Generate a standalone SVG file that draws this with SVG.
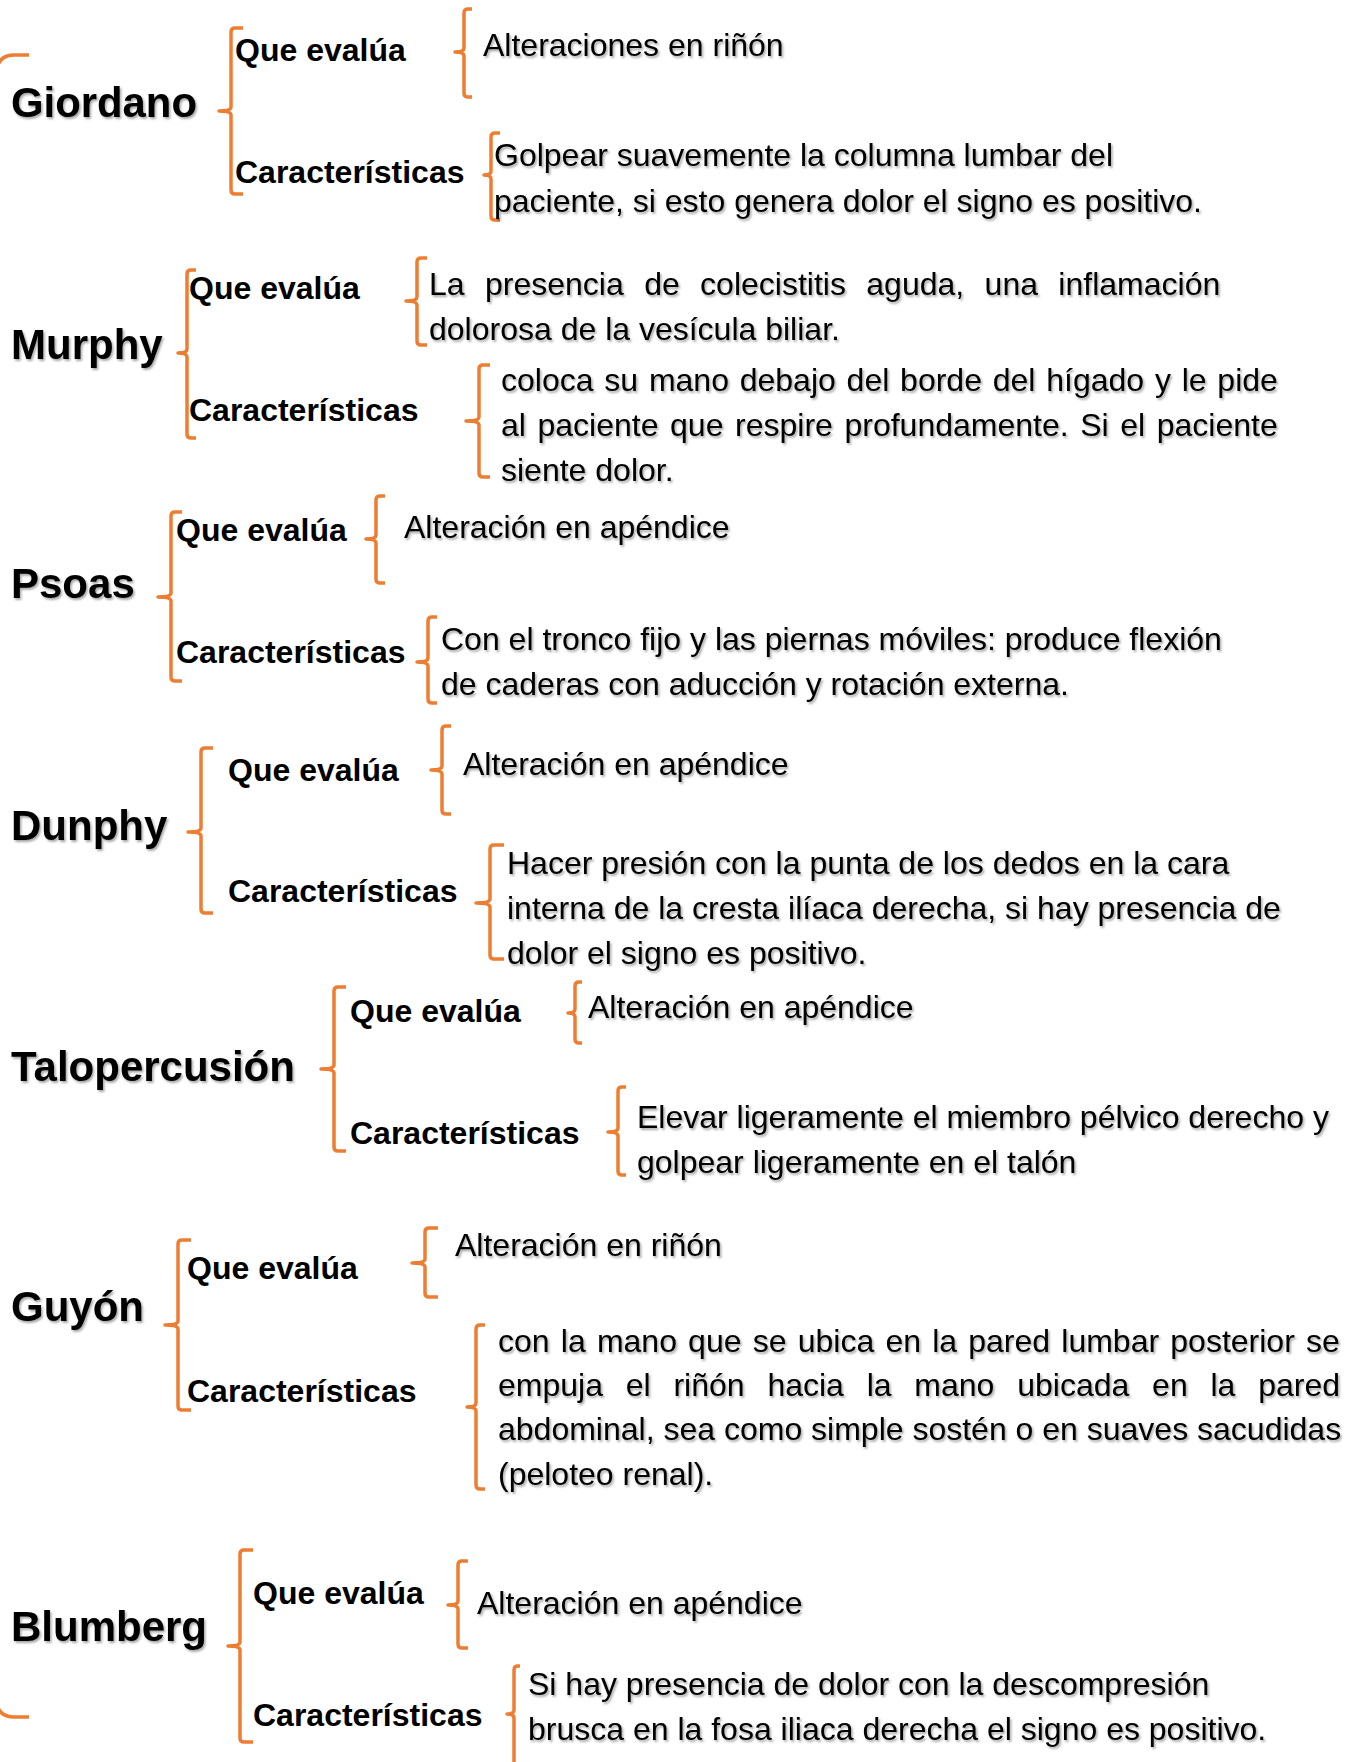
<svg xmlns="http://www.w3.org/2000/svg" width="1347" height="1762" viewBox="0 0 1347 1762">
<defs>
<filter id="sh" x="-5%" y="-20%" width="110%" height="150%">
<feDropShadow dx="1.5" dy="2" stdDeviation="1.2" flood-color="#000" flood-opacity="0.35"/>
</filter>
<style>
.t{font-family:"Liberation Sans",Arial,sans-serif;font-weight:bold;font-size:42px;fill:#000;filter:url(#sh)}
.l{font-family:"Liberation Sans",Arial,sans-serif;font-weight:bold;font-size:32px;fill:#000}
.b{font-family:"Liberation Sans",Arial,sans-serif;font-size:32px;fill:#000;filter:url(#sh)}
.br{fill:none;stroke:#ED7D31;stroke-width:3.5;stroke-linejoin:round}
</style>
</defs>
<rect width="1347" height="1762" fill="#fff"/>

<g id="connectors">
<path class="br" d="M29,55 L14,55 Q0,55 -3,68 L-3,1705 Q0,1717 14,1717 L29,1717"/>
<path class="br" d="M243,28 L235,28 Q231,28 231,32 L231,107 Q231,111 219,111 Q231,111 231,115 L231,190 Q231,194 235,194 L243,194"/>
<path class="br" d="M472,9 L468,9 Q464,9 464,13 L464,48 Q464,52 455,52 Q464,52 464,56 L464,93 Q464,97 468,97 L472,97"/>
<path class="br" d="M500,133 L495,133 Q491,133 491,137 L491,171 Q491,175 484,175 Q491,175 491,179 L491,216 Q491,220 495,220 L500,220"/>
<path class="br" d="M196,270 L191,270 Q187,270 187,274 L187,349 Q187,353 178,353 Q187,353 187,357 L187,434 Q187,438 191,438 L196,438"/>
<path class="br" d="M427,258 L421,258 Q417,258 417,262 L417,297 Q417,301 406,301 Q417,301 417,305 L417,341 Q417,345 421,345 L427,345"/>
<path class="br" d="M490,365 L483,365 Q479,365 479,369 L479,417 Q479,421 466,421 Q479,421 479,425 L479,473 Q479,477 483,477 L490,477"/>
<path class="br" d="M182,512 L175,512 Q171,512 171,516 L171,593 Q171,597 158,597 Q171,597 171,601 L171,677 Q171,681 175,681 L182,681"/>
<path class="br" d="M385,496 L380,496 Q376,496 376,500 L376,535 Q376,539 366,539 Q376,539 376,543 L376,579 Q376,583 380,583 L385,583"/>
<path class="br" d="M437,617 L432,617 Q428,617 428,621 L428,658 Q428,662 417,662 Q428,662 428,666 L428,699 Q428,703 432,703 L437,703"/>
<path class="br" d="M213,748 L205,748 Q201,748 201,752 L201,828 Q201,832 188,832 Q201,832 201,836 L201,909 Q201,913 205,913 L213,913"/>
<path class="br" d="M451,726 L446,726 Q442,726 442,730 L442,766 Q442,770 431,770 Q442,770 442,774 L442,810 Q442,814 446,814 L451,814"/>
<path class="br" d="M504,845 L494,845 Q490,845 490,849 L490,899 Q490,903 476,903 Q490,903 490,907 L490,955 Q490,959 494,959 L504,959"/>
<path class="br" d="M346,987 L338,987 Q334,987 334,991 L334,1065 Q334,1069 321,1069 Q334,1069 334,1073 L334,1147 Q334,1151 338,1151 L346,1151"/>
<path class="br" d="M582,982 L579,982 Q575,982 575,986 L575,1009 Q575,1013 568,1013 Q575,1013 575,1017 L575,1039 Q575,1043 579,1043 L582,1043"/>
<path class="br" d="M626,1087 L622,1087 Q618,1087 618,1091 L618,1128 Q618,1132 608,1132 Q618,1132 618,1136 L618,1171 Q618,1175 622,1175 L626,1175"/>
<path class="br" d="M191,1240 L182,1240 Q178,1240 178,1244 L178,1321 Q178,1325 165,1325 Q178,1325 178,1329 L178,1406 Q178,1410 182,1410 L191,1410"/>
<path class="br" d="M438,1228 L429,1228 Q425,1228 425,1232 L425,1259 Q425,1263 412,1263 Q425,1263 425,1267 L425,1293 Q425,1297 429,1297 L438,1297"/>
<path class="br" d="M485,1325 L480,1325 Q476,1325 476,1329 L476,1403 Q476,1407 467,1407 Q476,1407 476,1411 L476,1485 Q476,1489 480,1489 L485,1489"/>
<path class="br" d="M253,1550 L244,1550 Q240,1550 240,1554 L240,1642 Q240,1646 228,1646 Q240,1646 240,1650 L240,1738 Q240,1742 244,1742 L253,1742"/>
<path class="br" d="M468,1561 L462,1561 Q458,1561 458,1565 L458,1601 Q458,1605 448,1605 Q458,1605 458,1609 L458,1644 Q458,1648 462,1648 L468,1648"/>
<path class="br" d="M520,1666 L518,1666 Q514,1666 514,1670 L514,1710 Q514,1714 507,1714 Q514,1714 514,1718 L514,1770"/>
</g>

<g id="giordano">
<text class="t" x="11" y="117" textLength="186" lengthAdjust="spacingAndGlyphs">Giordano</text>
</g>
<g id="giordano-que"><text class="l" x="235" y="61">Que evalúa</text></g>
<g id="giordano-car"><text class="l" x="235" y="183">Características</text></g>
<g id="giordano-que-txt"><text class="b" x="483" y="56">Alteraciones en riñón</text></g>
<g id="giordano-car-txt">
<text class="b" x="494" y="166">Golpear suavemente la columna lumbar del</text>
<text class="b" x="494" y="212">paciente, si esto genera dolor el signo es positivo.</text>
</g>

<g id="murphy"><text class="t" x="11" y="359">Murphy</text></g>
<g id="murphy-que"><text class="l" x="189" y="299">Que evalúa</text></g>
<g id="murphy-car"><text class="l" x="189" y="421">Características</text></g>
<g id="murphy-que-txt">
<text class="b" x="429" y="295" word-spacing="11.5">La presencia de colecistitis aguda, una inflamación</text>
<text class="b" x="429" y="340">dolorosa de la vesícula biliar.</text>
</g>
<g id="murphy-car-txt">
<text class="b" x="501" y="391" word-spacing="1.9">coloca su mano debajo del borde del hígado y le pide</text>
<text class="b" x="501" y="436" word-spacing="2.7">al paciente que respire profundamente. Si el paciente</text>
<text class="b" x="501" y="481">siente dolor.</text>
</g>

<g id="psoas"><text class="t" x="11" y="598">Psoas</text></g>
<g id="psoas-que"><text class="l" x="176" y="541">Que evalúa</text></g>
<g id="psoas-car"><text class="l" x="176" y="663">Características</text></g>
<g id="psoas-que-txt"><text class="b" x="404" y="538">Alteración en apéndice</text></g>
<g id="psoas-car-txt">
<text class="b" x="441" y="650">Con el tronco fijo y las piernas móviles: produce flexión</text>
<text class="b" x="441" y="695">de caderas con aducción y rotación externa.</text>
</g>

<g id="dunphy"><text class="t" x="11" y="840">Dunphy</text></g>
<g id="dunphy-que"><text class="l" x="228" y="781">Que evalúa</text></g>
<g id="dunphy-car"><text class="l" x="228" y="902">Características</text></g>
<g id="dunphy-que-txt"><text class="b" x="463" y="775">Alteración en apéndice</text></g>
<g id="dunphy-car-txt">
<text class="b" x="507" y="874">Hacer presión con la punta de los dedos en la cara</text>
<text class="b" x="507" y="919">interna de la cresta ilíaca derecha, si hay presencia de</text>
<text class="b" x="507" y="964">dolor el signo es positivo.</text>
</g>

<g id="talopercusion"><text class="t" x="11" y="1081">Talopercusión</text></g>
<g id="talopercusion-que"><text class="l" x="350" y="1022">Que evalúa</text></g>
<g id="talopercusion-car"><text class="l" x="350" y="1144">Características</text></g>
<g id="talopercusion-que-txt"><text class="b" x="588" y="1018">Alteración en apéndice</text></g>
<g id="talopercusion-car-txt">
<text class="b" x="637" y="1128">Elevar ligeramente el miembro pélvico derecho y</text>
<text class="b" x="637" y="1173">golpear ligeramente en el talón</text>
</g>

<g id="guyon"><text class="t" x="11" y="1321">Guyón</text></g>
<g id="guyon-que"><text class="l" x="187" y="1279">Que evalúa</text></g>
<g id="guyon-car"><text class="l" x="187" y="1402">Características</text></g>
<g id="guyon-que-txt"><text class="b" x="455" y="1256">Alteración en riñón</text></g>
<g id="guyon-car-txt">
<text class="b" x="498" y="1352" word-spacing="2.3">con la mano que se ubica en la pared lumbar posterior se</text>
<text class="b" x="498" y="1396" word-spacing="13.9">empuja el riñón hacia la mano ubicada en la pared</text>
<text class="b" x="498" y="1440">abdominal, sea como simple sostén o en suaves sacudidas</text>
<text class="b" x="498" y="1485">(peloteo renal).</text>
</g>

<g id="blumberg"><text class="t" x="11" y="1641">Blumberg</text></g>
<g id="blumberg-que"><text class="l" x="253" y="1604">Que evalúa</text></g>
<g id="blumberg-car"><text class="l" x="253" y="1726">Características</text></g>
<g id="blumberg-que-txt"><text class="b" x="477" y="1614">Alteración en apéndice</text></g>
<g id="blumberg-car-txt">
<text class="b" x="528" y="1695">Si hay presencia de dolor con la descompresión</text>
<text class="b" x="528" y="1740">brusca en la fosa iliaca derecha el signo es positivo.</text>
</g>
</svg>
